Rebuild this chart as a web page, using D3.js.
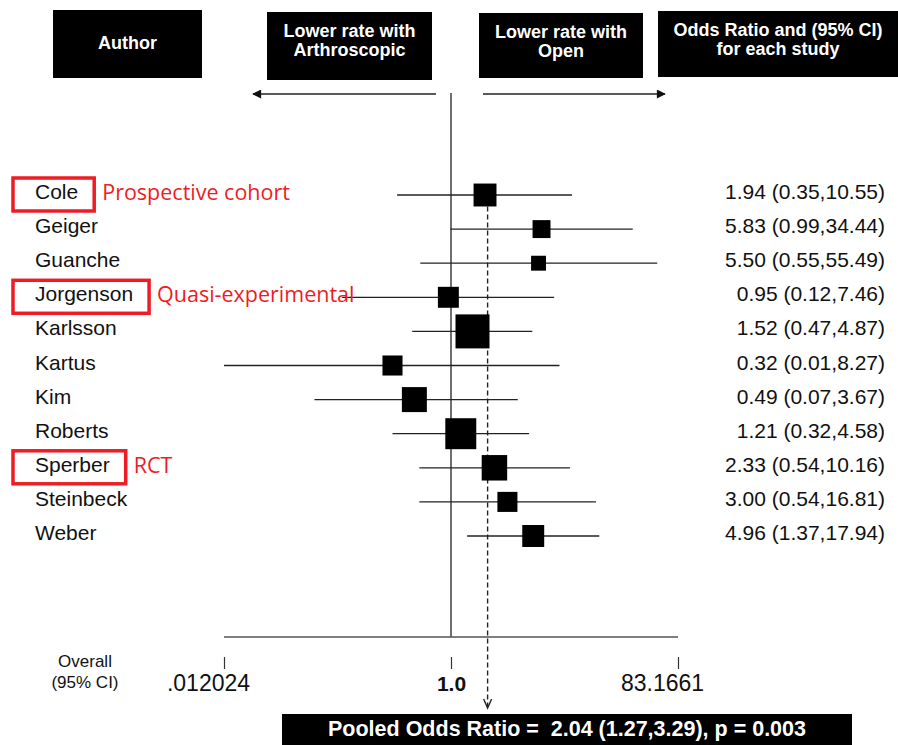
<!DOCTYPE html>
<html>
<head>
<meta charset="utf-8">
<script src="https://cdn.jsdelivr.net/npm/d3@7"></script>
<style>
  body { margin: 0; background: #fff; }
  svg { display: block; }
</style>
</head>
<body>
<div id="chart"></div>
<script>
// study data
const authors = ['Cole', 'Geiger', 'Guanche', 'Jorgenson', 'Karlsson', 'Kartus', 'Kim', 'Roberts', 'Sperber', 'Steinbeck', 'Weber'];
const oddsRatios = [1.94, 5.83, 5.50, 0.95, 1.52, 0.32, 0.49, 1.21, 2.33, 3.00, 4.96];
const ciLower = [0.35, 0.99, 0.55, 0.12, 0.47, 0.01, 0.07, 0.32, 0.54, 0.54, 1.37];
const ciUpper = [10.55, 34.44, 55.49, 7.46, 4.87, 8.27, 3.67, 4.58, 10.16, 16.81, 17.94];
// study weights (%)
const weights = [8.5, 5.2, 3.6, 7.1, 18.7, 6.5, 10.1, 15.5, 10.5, 6.5, 7.8];

// pooled estimate
const pooledOR = 2.04;
const pooledLower = 1.27;
const pooledUpper = 3.29;
const pooledP = 0.003;

// axis
const tickValues = [0.012024, 1.0, 83.1661];
const tickLabels = ['.012024', '1.0', '83.1661'];

// header boxes
const headerLines = [
  ['Author'],
  ['Lower rate with', 'Arthroscopic'],
  ['Lower rate with', 'Open'],
  ['Odds Ratio and (95% CI)', 'for each study']
];

// design annotations
const noteAuthors = ['Cole', 'Jorgenson', 'Sperber'];
const noteLabels = ['Prospective cohort', 'Quasi-experimental', 'RCT'];

const width = 898, height = 745;
const red = '#ee1c24';
const sans = '"Liberation Sans", Arial, Helvetica, sans-serif';

const svg = d3.select('#chart').append('svg')
  .attr('width', width)
  .attr('height', height)
  .attr('viewBox', '0 0 ' + width + ' ' + height);

const x = d3.scaleLog().domain([tickValues[0], tickValues[2]]).range([224, 678]);
const y = d3.scalePoint().domain(authors).range([195, 536]);
const boxSize = d3.scaleSqrt().domain([0, d3.max(weights)]).range([0, 34]);
const f2 = d3.format('.2f');

const studies = authors.map((a, i) => ({
  author: a, or: oddsRatios[i], lo: ciLower[i], hi: ciUpper[i], w: weights[i]
}));

// header boxes
const headerBoxes = [
  {x: 53, y: 10, w: 149, h: 68},
  {x: 267, y: 12, w: 165, h: 68},
  {x: 479, y: 13, w: 164, h: 65},
  {x: 658, y: 11, w: 240, h: 66}
];
const headers = svg.append('g').attr('class', 'headers')
  .selectAll('g')
  .data(headerLines)
  .enter().append('g');

headers.append('rect')
  .attr('x', (d, i) => headerBoxes[i].x)
  .attr('y', (d, i) => headerBoxes[i].y)
  .attr('width', (d, i) => headerBoxes[i].w)
  .attr('height', (d, i) => headerBoxes[i].h)
  .attr('fill', '#000');

headers.each(function(lines, i) {
  const b = headerBoxes[i];
  const g = d3.select(this);
  const baseY = lines.length === 1 ? b.y + 39 : b.y + 25;
  lines.forEach((t, j) => {
    g.append('text')
      .attr('x', b.x + b.w / 2)
      .attr('y', baseY + j * 19)
      .attr('text-anchor', 'middle')
      .attr('fill', '#fff')
      .attr('font-family', sans)
      .attr('font-weight', 'bold')
      .attr('font-size', '18px')
      .text(t);
  });
});

// direction arrows
svg.append('defs').append('marker')
  .attr('id', 'arrow')
  .attr('viewBox', '0 0 10 10')
  .attr('refX', 9).attr('refY', 5)
  .attr('markerWidth', 10).attr('markerHeight', 9)
  .attr('markerUnits', 'userSpaceOnUse')
  .attr('orient', 'auto')
  .append('path')
  .attr('d', 'M0,0L10,5L0,10Z')
  .attr('fill', '#111');

svg.append('line')
  .attr('x1', x(1) - 15).attr('x2', 253)
  .attr('y1', 94).attr('y2', 94)
  .attr('stroke', '#222').attr('stroke-width', 1.5)
  .attr('marker-end', 'url(#arrow)');

svg.append('line')
  .attr('x1', x(1) + 32).attr('x2', 665)
  .attr('y1', 94).attr('y2', 94)
  .attr('stroke', '#222').attr('stroke-width', 1.5)
  .attr('marker-end', 'url(#arrow)');

// line of no effect
svg.append('line')
  .attr('x1', x(1)).attr('x2', x(1))
  .attr('y1', 93).attr('y2', 637)
  .attr('stroke', '#333').attr('stroke-width', 1.4);

// baseline
svg.append('line')
  .attr('x1', x.range()[0]).attr('x2', x.range()[1])
  .attr('y1', 637).attr('y2', 637)
  .attr('stroke', '#555').attr('stroke-width', 1.4);

// pooled estimate dashed line
const topBox = boxSize(weights[0]) / 2;
svg.append('line')
  .attr('x1', x(pooledOR)).attr('x2', x(pooledOR))
  .attr('y1', y(authors[0]) + topBox).attr('y2', 707)
  .attr('stroke', '#222').attr('stroke-width', 1.4)
  .attr('stroke-dasharray', '5,3');
svg.append('path')
  .attr('d', 'M' + (x(pooledOR) - 4) + ',699L' + x(pooledOR) + ',708L' + (x(pooledOR) + 4) + ',699')
  .attr('fill', 'none')
  .attr('stroke', '#222').attr('stroke-width', 1.4);

// CI lines
const rows = svg.append('g').attr('class', 'studies')
  .selectAll('g')
  .data(studies)
  .enter().append('g')
    .attr('transform', d => 'translate(0,' + y(d.author) + ')');

rows.append('line')
  .attr('x1', d => x(Math.max(d.lo, x.domain()[0])))
  .attr('x2', d => x(Math.min(d.hi, x.domain()[1])))
  .attr('y1', 0).attr('y2', 0)
  .attr('stroke', '#222')
  .attr('stroke-width', 1.3);

rows.append('rect')
  .attr('x', d => x(d.or) - boxSize(d.w) / 2)
  .attr('y', d => -boxSize(d.w) / 2)
  .attr('width', d => boxSize(d.w))
  .attr('height', d => boxSize(d.w))
  .attr('fill', '#000');

// author labels
rows.append('text')
  .attr('class', 'author')
  .attr('x', 35)
  .attr('y', 4)
  .attr('font-family', sans)
  .attr('font-size', '21px')
  .attr('fill', '#111')
  .text(d => d.author);

// odds ratio text
rows.append('text')
  .attr('x', 885)
  .attr('y', 4)
  .attr('text-anchor', 'end')
  .attr('font-family', sans)
  .attr('font-size', '21px')
  .attr('fill', '#111')
  .text(d => f2(d.or) + ' (' + f2(d.lo) + ',' + f2(d.hi) + ')');

// red annotations
rows.filter(d => noteAuthors.includes(d.author)).each(function(d) {
  const g = d3.select(this);
  const bb = g.select('text.author').node().getBBox();
  const right = bb.x + bb.width + 16;
  g.append('rect')
    .attr('x', 13)
    .attr('y', -17)
    .attr('width', right - 13)
    .attr('height', 33)
    .attr('fill', 'none')
    .attr('stroke', red)
    .attr('stroke-width', 3.5);
  g.append('text')
    .attr('x', right + 8)
    .attr('y', 5)
    .attr('font-family', '"Open Sans", "Noto Sans", sans-serif')
    .attr('font-size', '21.5px')
    .attr('fill', red)
    .text(noteLabels[noteAuthors.indexOf(d.author)]);
});

// bottom axis
const xAxis = d3.axisBottom(x)
  .tickValues(tickValues)
  .tickFormat((d, i) => tickLabels[i])
  .tickSize(12);

const axisG = svg.append('g')
  .attr('class', 'axis axis--x')
  .attr('transform', 'translate(0,657)')
  .call(xAxis);
axisG.select('.domain').remove();
axisG.selectAll('line').attr('stroke', '#333').attr('stroke-width', 1.2);
axisG.selectAll('text')
  .attr('y', 34)
  .attr('dy', 0)
  .attr('dx', (d, i) => i === 1 ? 0 : -16)
  .attr('fill', '#111')
  .attr('font-family', sans)
  .attr('font-size', (d, i) => i === 1 ? '21px' : '23px')
  .attr('font-weight', (d, i) => i === 1 ? 'bold' : 'normal');

svg.append('text')
  .attr('x', 85).attr('y', 667)
  .attr('text-anchor', 'middle')
  .attr('font-family', sans).attr('font-size', '17px').attr('fill', '#111')
  .text('Overall');
svg.append('text')
  .attr('x', 85).attr('y', 688)
  .attr('text-anchor', 'middle')
  .attr('font-family', sans).attr('font-size', '17px').attr('fill', '#111')
  .text('(95% CI)');

// pooled result box
svg.append('rect')
  .attr('x', 282).attr('y', 714)
  .attr('width', 570).attr('height', 40)
  .attr('fill', '#000');
svg.append('text')
  .attr('x', 567).attr('y', 736)
  .attr('text-anchor', 'middle')
  .attr('fill', '#fff')
  .attr('font-family', sans)
  .attr('font-weight', 'bold')
  .attr('font-size', '21.5px')
  .style('white-space', 'pre')
  .text('Pooled Odds Ratio =  ' + f2(pooledOR) + ' (' + f2(pooledLower) + ',' + f2(pooledUpper) + '), p = ' + d3.format('.3f')(pooledP));
</script>
</body>
</html>
